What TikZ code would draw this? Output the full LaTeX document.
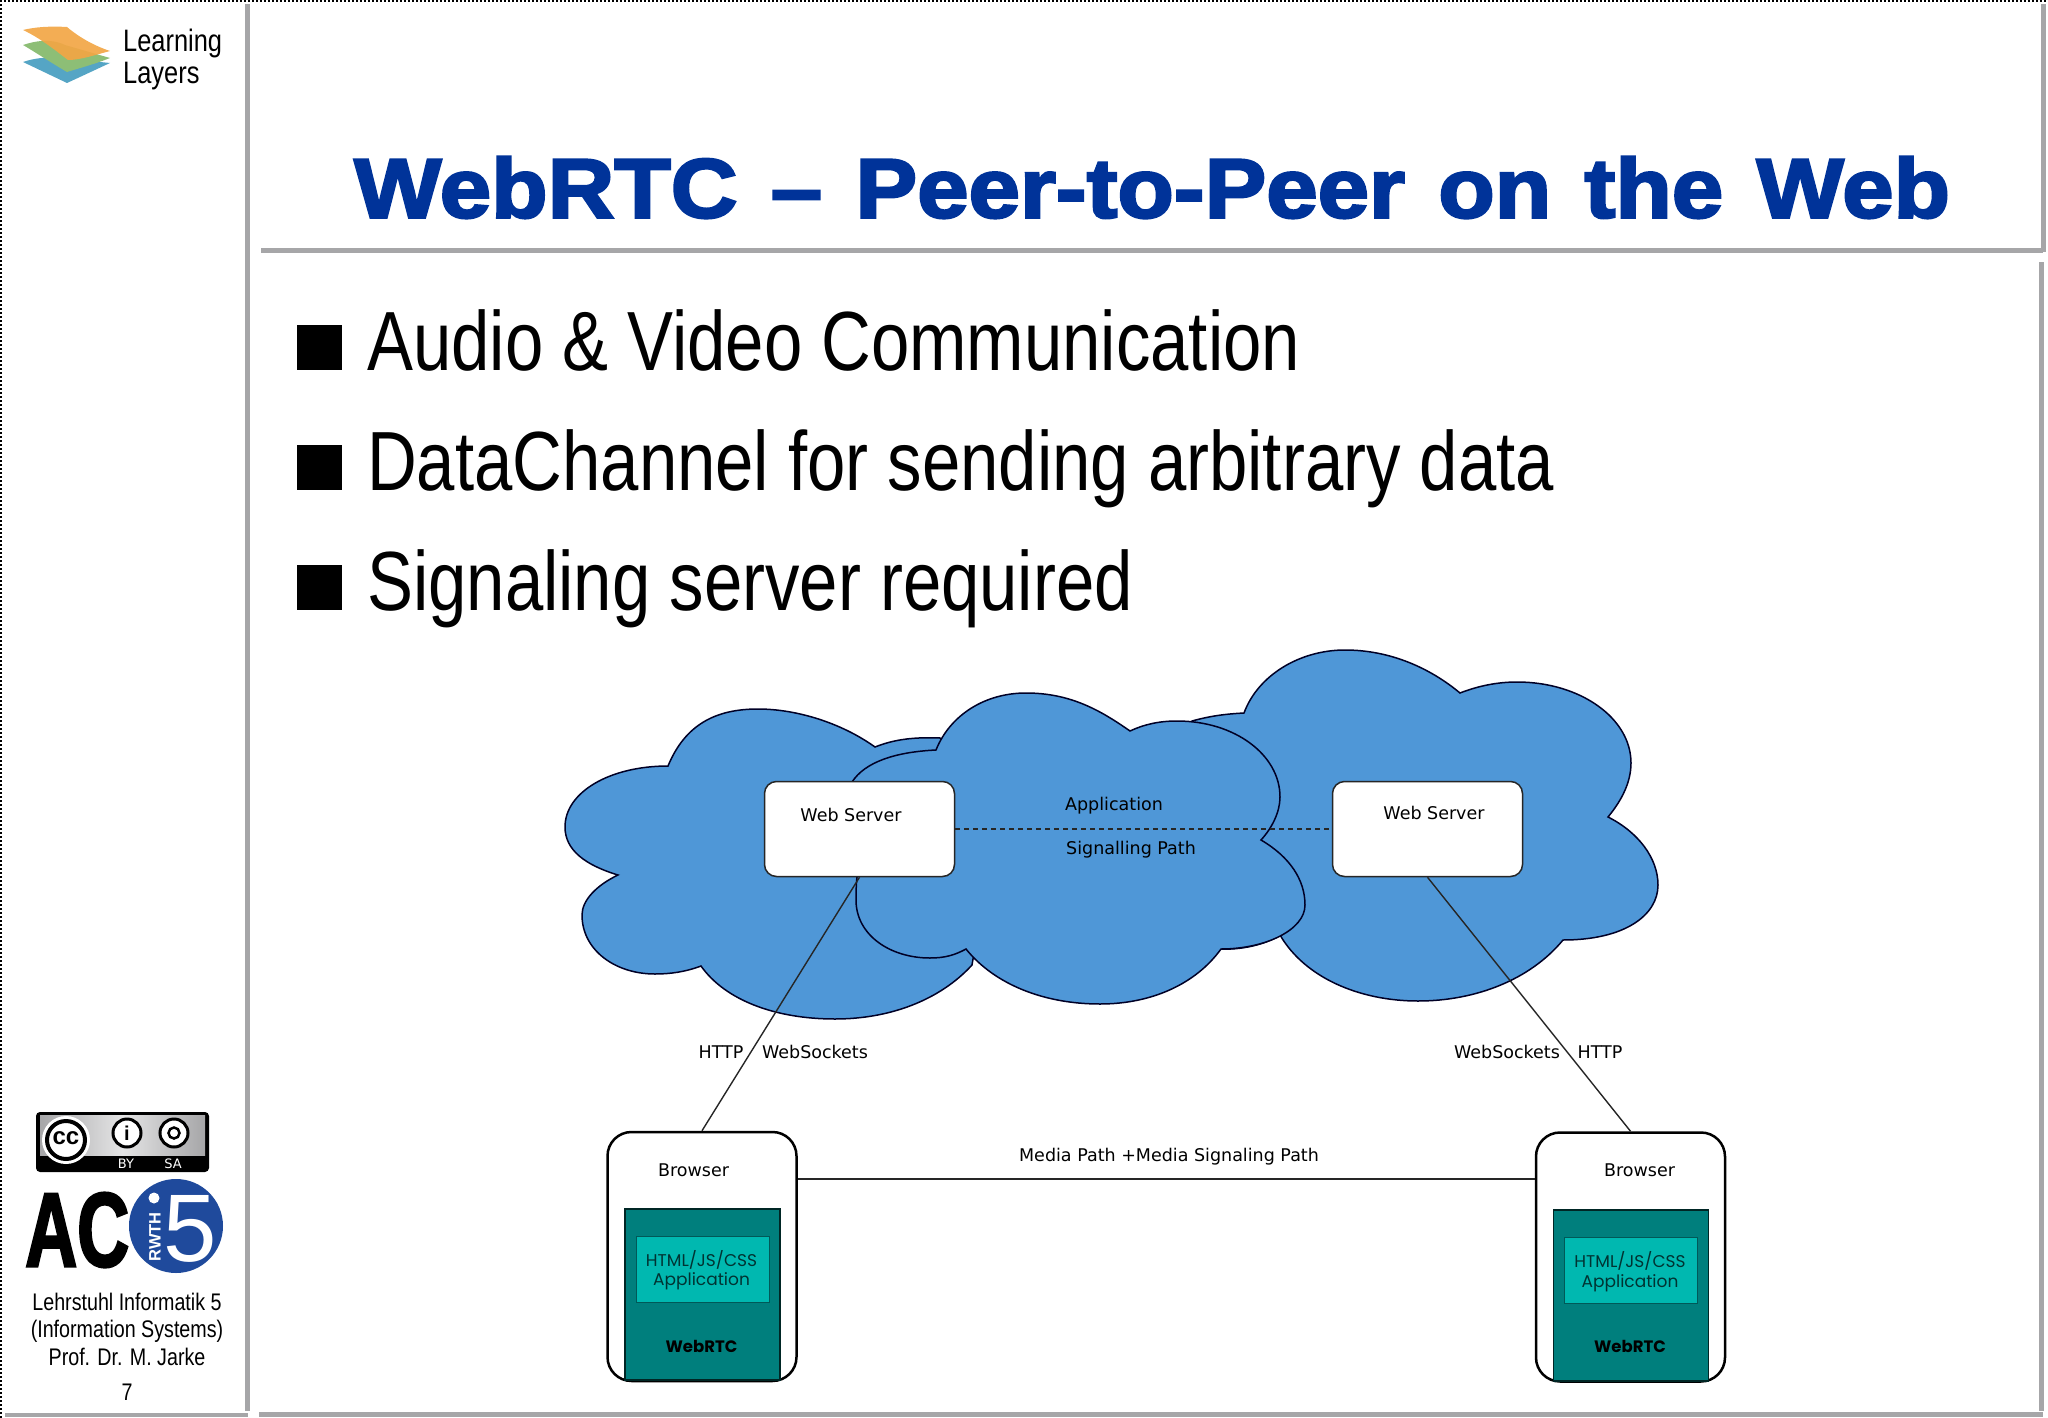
\documentclass[tikz,border=0pt]{standalone}
\usepackage{fontspec}
\setmainfont{Liberation Sans}
\newfontfamily\narrowfont[FakeStretch=0.82]{Liberation Sans}
\newfontfamily\headfont[FakeStretch=1.10,FakeBold=3,WordSpace=1.3]{Liberation Sans Bold}
\newfontfamily\acfont[FakeStretch=0.68,FakeBold=2]{Liberation Sans Bold}
\newfontfamily\diagfont{DejaVu Sans}
\newfontfamily\appfont{Poppins}
\newcommand{\fsz}[1]{\fontsize{#1}{#1}\selectfont}
\definecolor{rulegray}{HTML}{A6A6A8}
\definecolor{headblue}{HTML}{003399}
\definecolor{cloudblue}{HTML}{4F97D7}
\definecolor{webrtcteal}{HTML}{007F7D}
\definecolor{appteal}{HTML}{00B8B0}
\definecolor{acblue}{HTML}{1F4A9C}
\definecolor{layerorange}{HTML}{F2A645}
\definecolor{layergreen}{HTML}{8DBE76}
\definecolor{layerblue}{HTML}{55A5C5}
\tikzstyle{txt} = [inner sep=0pt, anchor=base west, text=black]
\tikzstyle{sidetxt} = [inner sep=0pt, anchor=base, font=\narrowfont\fsz{24}]
\tikzstyle{diag} = [inner sep=0pt, font=\diagfont\fsz{17.5}, text=black]
\tikzstyle{cloud} = [draw=black!85!blue, fill=cloudblue, line width=1.5pt]
\tikzstyle{server} = [draw=black!85, fill=white, rectangle, rounded corners=12pt, line width=1.5pt, minimum width=190pt, minimum height=95pt, inner sep=0pt]
\tikzstyle{browser} = [draw=black, fill=white, rectangle, rounded corners=24pt, line width=2.5pt, minimum width=189pt, minimum height=249pt, inner sep=0pt]
\tikzstyle{webrtc} = [draw=black!70!webrtcteal, fill=webrtcteal, rectangle, line width=1.5pt, minimum width=155pt, minimum height=171pt, inner sep=0pt]
\tikzstyle{app} = [draw=webrtcteal!70!black, fill=appteal, rectangle, line width=1pt, minimum width=133pt, minimum height=66pt, inner sep=0pt]
\tikzstyle{apptxt} = [inner sep=0pt, font=\appfont\fsz{17}, text=black!60!webrtcteal]
\tikzstyle{rtctxt} = [inner sep=0pt, font=\appfont\bfseries\fsz{16.5}, text=black]
\tikzstyle{link} = [draw=black!85, line width=1.4pt]
\tikzstyle{frame} = [fill=rulegray]
\begin{document}
\begin{tikzpicture}[x=1pt, y=-1pt]
        \useasboundingbox (0,0) rectangle (2048,1418);
        % slide frame
        \draw[line width=2pt, dash pattern=on 2pt off 2pt] (0,1) -- (2048,1);
        \draw[line width=2pt, dash pattern=on 2pt off 2pt] (1,0) -- (1,1418);
        \path[frame] (245,4) rectangle (250,1411);
        \path[frame] (5,1413) rectangle (248,1417);
        \path[frame] (259,1412) rectangle (2043,1417);
        \path[frame] (261,247.5) rectangle (2043,252.5);
        \path[frame] (2041,4) rectangle (2046,252);
        \path[frame] (2039,262) rectangle (2044,1411);
        % learning layers logo
        \fill[layerblue] (23,62) .. controls (35,58) and (45,57) .. (60,58) -- (110,63) .. controls (95,70) and (80,77) .. (67,83) -- cycle;
        \fill[layergreen] (23,45) .. controls (35,41) and (50,38) .. (65,45) -- (110,58) .. controls (95,64) and (80,68) .. (67,72) .. controls (50,62) and (35,52) .. (23,45) -- cycle;
        \fill[layerorange, fill opacity=.92] (23,30) .. controls (35,27) and (50,26) .. (67,27) .. controls (80,38) and (95,46) .. (110,51) .. controls (95,55) and (80,60) .. (68,60) .. controls (55,50) and (40,38) .. (23,30) -- cycle;
        \node[txt, font=\narrowfont\fsz{31}] (learning) at (123,52) {Learning};
        \node[txt, font=\narrowfont\fsz{31}] (layers) at (123,84) {Layers};
        % cc badge
        \fill[black, rounded corners=4pt] (36,1112) rectangle (209,1172);
        \shade[left color=rulegray, right color=rulegray, middle color=white!70!rulegray] (40,1115) rectangle (205,1155);
        \fill[white] (66,1140) circle (24);
        \draw[black, line width=4pt] (66,1140) circle (19);
        \node[inner sep=0pt, font=\bfseries\fsz{24}] (cclogo) at (66,1138) {cc};
        \filldraw[fill=white, draw=black, line width=3pt] (127,1133) circle (14);
        \node[inner sep=0pt, font=\bfseries\fsz{20}] (bylogo) at (127,1133) {i};
        \filldraw[fill=white, draw=black, line width=3pt] (174,1133) circle (14);
        \draw[line width=2.5pt] (174,1133) circle (5.5);
        \node[inner sep=0pt, font=\diagfont\fsz{13}, text=white] (bytxt) at (126,1164) {BY};
        \node[inner sep=0pt, font=\diagfont\fsz{13}, text=white] (satxt) at (173,1164) {SA};
        % ac i5 logo
        \node[txt, font=\acfont\fsz{106}] (ac) at (25,1266.5) {AC};
        \fill[acblue] (176,1226) circle (47);
        \fill[white] (154,1198) circle (5.5);
        \node[inner sep=0pt, rotate=90, font=\bfseries\fsz{16.5}, text=white] (rwth) at (155,1237) {RWTH};
        \node[inner sep=0pt, anchor=base, font=\fsz{96}, text=white] (five) at (190,1261) {5};
        % chair text
        \node[sidetxt] (chair) at (127,1310) {Lehrstuhl Informatik 5};
        \node[sidetxt] (systems) at (127,1337) {(Information Systems)};
        \node[sidetxt] (prof) at (127,1365) {Prof. Dr. M. Jarke};
        \node[sidetxt] (pageno) at (127,1400) {7};
        % title and bullets
        \node[txt, font=\headfont\fsz{84}, text=headblue] (title) at (354,217.5) {WebRTC – Peer-to-Peer on the Web};
        \foreach \name/\ypos/\item in {audio/370/Audio \& Video Communication, data/490/DataChannel for sending arbitrary data, signal/610/Signaling server required} {
            \fill (297,\ypos-45) rectangle (342,\ypos);
            \node[txt, font=\narrowfont\fsz{84}] (\name) at (367,\ypos) {\item};
        }
        % clouds
        \draw[cloud] (668,766) .. controls (685,725) and (715,709) .. (758,709) .. controls (795,709) and (840,722) .. (875,747)
            .. controls (895,739) and (915,737) .. (940,738) -- (1000,800) -- (972,965)
            .. controls (940,1000) and (890,1019) .. (835,1019) .. controls (775,1019) and (725,1000) .. (701,966)
            .. controls (685,972) and (670,974) .. (655,974) .. controls (615,974) and (582,950) .. (582,915)
            .. controls (582,900) and (597,885) .. (618,875) .. controls (585,865) and (565,850) .. (565,827)
            .. controls (565,792) and (610,766) .. (668,766) -- cycle;
        \draw[cloud] (1244,713) .. controls (1258,675) and (1300,650) .. (1345,650) .. controls (1390,650) and (1430,668) .. (1460,693)
            .. controls (1478,686) and (1497,682) .. (1517,682) .. controls (1580,682) and (1631,718) .. (1631,763)
            .. controls (1631,782) and (1622,800) .. (1608,817) .. controls (1638,832) and (1658,858) .. (1658,885)
            .. controls (1658,915) and (1625,940) .. (1563,940) .. controls (1530,980) and (1475,1001) .. (1418,1001)
            .. controls (1360,1001) and (1305,978) .. (1280,935) .. controls (1265,945) and (1240,950) .. (1221,949)
            -- (1180,850) -- (1192,721) .. controls (1210,716) and (1225,714) .. (1244,713) -- cycle;
        \draw[cloud] (936,750) .. controls (950,715) and (985,693) .. (1026,693) .. controls (1070,693) and (1100,710) .. (1130,731)
            .. controls (1145,724) and (1160,721) .. (1177,721) .. controls (1235,721) and (1280,755) .. (1280,797)
            .. controls (1280,812) and (1272,828) .. (1261,840) .. controls (1290,857) and (1305,880) .. (1305,905)
            .. controls (1305,930) and (1265,949) .. (1221,949) .. controls (1195,985) and (1150,1004) .. (1100,1004)
            .. controls (1045,1004) and (995,985) .. (966,949) .. controls (955,955) and (945,958) .. (930,958)
            .. controls (890,958) and (856,935) .. (856,900) .. controls (856,860) and (862,850) .. (880,830)
            .. controls (860,815) and (845,800) .. (852,782) .. controls (865,762) and (895,752) .. (936,750) -- cycle;
        % servers
        \node[server] (serverleft) at (859.5,829) {};
        \node[server] (serverright) at (1427.5,829) {};
        \node[diag] (serverlefttxt) at (851,815) {Web Server};
        \node[diag] (serverrighttxt) at (1434,813) {Web Server};
        % browsers
        \node[browser] (browserleft) at (702,1256.5) {};
        \node[browser] (browserright) at (1630.5,1257) {};
        \node[diag] (browserlefttxt) at (693.5,1170.5) {Browser};
        \node[diag] (browserrighttxt) at (1639.5,1170.5) {Browser};
        \node[webrtc] (rtcleft) at (702.5,1294.5) {};
        \node[webrtc] (rtcright) at (1631,1295.5) {};
        \node[app] (appleft) at (702.5,1269.5) {};
        \node[app] (appright) at (1631,1270.5) {};
        \node[apptxt] (htmlleft) at (701.5,1259.5) {HTML/JS/CSS};
        \node[apptxt] (applabelleft) at (701.5,1281.5) {Application};
        \node[apptxt] (htmlright) at (1630,1261) {HTML/JS/CSS};
        \node[apptxt] (applabelright) at (1630,1283) {Application};
        \node[rtctxt] (rtcleftlabel) at (701.5,1346) {WebRTC};
        \node[rtctxt] (rtcrightlabel) at (1630,1346) {WebRTC};
        % paths
        \path[link, dash pattern=on 5pt off 4pt] (serverleft) -- (serverright);
        \path[link] (serverleft.south) -- (browserleft.north);
        \path[link] (serverright.south) -- (browserright.north);
        \path[link] (browserleft.east |- 0,1179) -- (browserright.west |- 0,1179);
        \node[diag] (applabel) at (1114,805.5) {Application};
        \node[diag] (pathlabel) at (1131,849.5) {Signalling Path};
        \node[diag] (httpleft) at (721,1052) {HTTP};
        \node[diag] (socketsleft) at (815,1052) {WebSockets};
        \node[diag] (socketsright) at (1507,1052) {WebSockets};
        \node[diag] (httpright) at (1600,1052) {HTTP};
        \node[diag] (medialabel) at (1169,1156.5) {Media Path +Media Signaling Path};
    \end{tikzpicture}
\end{document}
